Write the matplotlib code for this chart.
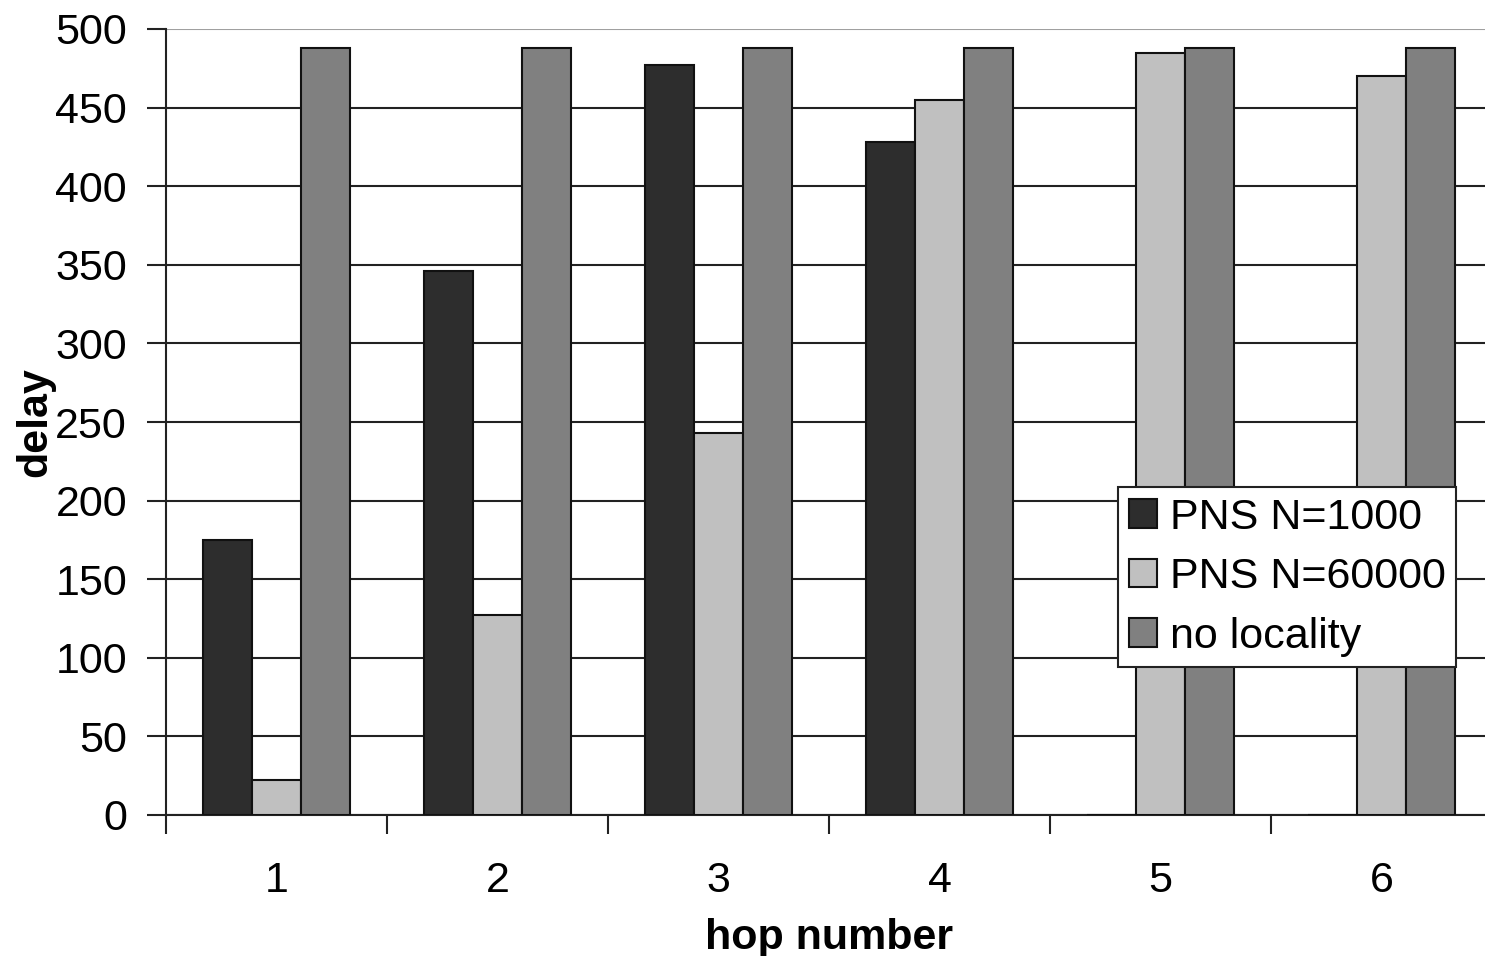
import numpy as np
import matplotlib
matplotlib.use('Agg')
import matplotlib.pyplot as plt

plt.rcParams['font.family'] = ['Liberation Sans', 'DejaVu Sans']

# data
hops = ['1', '2', '3', '4', '5', '6']
pns_1000 = [175, 346, 477, 428, 0, 0]
pns_60000 = [22, 127, 243, 455, 485, 470]
no_locality = [488, 488, 488, 488, 488, 488]
series_names = ['PNS N=1000', 'PNS N=60000', 'no locality']
colors = ['#2d2d2d', '#c0c0c0', '#808080']

fig = plt.figure(figsize=(14.85, 9.56), dpi=100)
ax = fig.add_axes([166/1485, 141/956, 1326/1485, 786/956])

x = np.arange(len(hops))
w = 0.222
for i, (vals, name, c) in enumerate(zip([pns_1000, pns_60000, no_locality], series_names, colors)):
    ax.bar(x + (i - 1) * w, vals, width=w, color=c, edgecolor='#111111',
           linewidth=1.5, label=name, zorder=3)

ax.set_xlim(-0.5, 5.5)
ax.set_ylim(0, 500)
ax.set_yticks(np.arange(0, 501, 50))
ax.set_xticks(x)
ax.set_xticklabels(hops)
ax.set_xticks(np.arange(-0.5, 5.6, 1), minor=True)
ax.tick_params(axis='x', which='major', length=0, pad=33, labelsize=31)
ax.tick_params(axis='x', which='minor', length=14, width=1.5, direction='out', color='#222222')
ax.tick_params(axis='y', length=14, width=1.5, direction='out', color='#222222', labelsize=31, pad=14)

ax.yaxis.grid(True, color='#222222', linewidth=1.5, zorder=0)
ax.get_ygridlines()[-1].set_color('#a0a0a0')
ax.set_axisbelow(True)
for s in ['top', 'right']:
    ax.spines[s].set_visible(False)
ax.spines['left'].set_linewidth(1.5)
ax.spines['left'].set_color('#222222')
ax.spines['bottom'].set_linewidth(1.5)
ax.spines['bottom'].set_color('#222222')

ax.set_xlabel('hop number', fontsize=31, fontweight='bold', labelpad=12)
ax.set_ylabel('delay', fontsize=31, fontweight='bold', labelpad=0)

leg = fig.legend(loc='upper left', bbox_to_anchor=(1118/1485, 1 - 487/956),
                 fontsize=31, frameon=True, fancybox=False, edgecolor='#222222',
                 framealpha=1, handlelength=0.65, handleheight=0.65, handletextpad=0.3,
                 borderpad=0.25, labelspacing=0.45, borderaxespad=0)
leg.get_frame().set_linewidth(1.5)

fig.savefig('out.png', dpi=100, facecolor='white')
